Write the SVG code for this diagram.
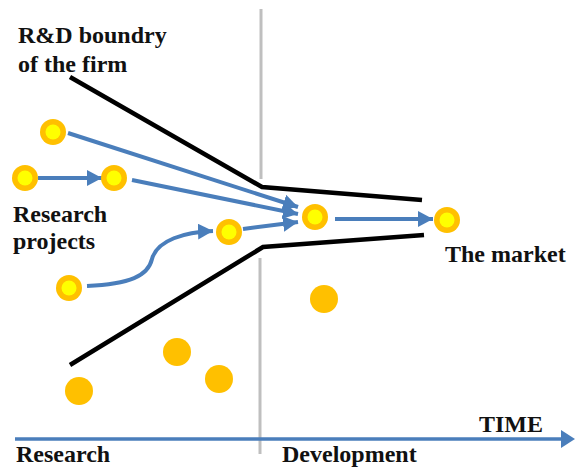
<svg xmlns="http://www.w3.org/2000/svg" width="575" height="469" viewBox="0 0 575 469">
<style>
.lbl{font-family:"Liberation Serif","Times New Roman",serif;font-weight:bold;font-size:24px;fill:#111}
.ring{fill:#FFC000}
.core{fill:#FFFF00}
.dot{fill:#FFC000}
.flow{fill:none;stroke:#4A7EBB;stroke-width:4;marker-end:url(#ah)}
.bound{fill:none;stroke:#000;stroke-width:4.5}
.divider{stroke:#BFBFBF;stroke-width:3}
</style>
<defs>
<marker id="ah" markerUnits="userSpaceOnUse" markerWidth="15" markerHeight="16" refX="15" refY="8" orient="auto">
<path d="M0,0 L15,8 L0,16 Z" fill="#4A7EBB"/>
</marker>
</defs>
<rect width="575" height="469" fill="#fff"/>
<g id="divider">
<line class="divider" x1="261" y1="9" x2="261" y2="179"/>
<line class="divider" x1="260" y1="258" x2="260" y2="454"/>
</g>
<g id="boundary">
<polyline class="bound" points="70,77 262,187 422,200"/>
<polyline class="bound" points="70,365 263,247 424,235"/>
</g>
<g id="connectors">
<line class="flow" x1="68" y1="133" x2="298" y2="207"/>
<line class="flow" x1="132" y1="180" x2="298" y2="214"/>
<line class="flow" x1="243" y1="229" x2="298" y2="222"/>
<line class="flow" x1="38" y1="178" x2="102" y2="178"/>
<path class="flow" d="M87,286 C130,284 148,276 152,259 C157,240 185,232 213,231"/>
<line class="flow" x1="335" y1="219" x2="433" y2="219"/>
</g>
<g id="time-axis">
<line x1="15" y1="439" x2="562" y2="439" stroke="#4A7EBB" stroke-width="3.5"/>
<path d="M561,430 L575,439 L561,448 Z" fill="#4A7EBB"/>
</g>
<g id="n1"><circle class="ring" cx="53" cy="132" r="13"/><circle class="core" cx="53" cy="132" r="7.5"/></g>
<g id="n2"><circle class="ring" cx="25" cy="178" r="13"/><circle class="core" cx="25" cy="178" r="7.5"/></g>
<g id="n3"><circle class="ring" cx="114" cy="178" r="13"/><circle class="core" cx="114" cy="178" r="7.5"/></g>
<g id="n4"><circle class="ring" cx="229" cy="232" r="13"/><circle class="core" cx="229" cy="232" r="7.5"/></g>
<g id="n5"><circle class="ring" cx="69" cy="288" r="13"/><circle class="core" cx="69" cy="288" r="7.5"/></g>
<g id="n6"><circle class="ring" cx="315" cy="217" r="13"/><circle class="core" cx="315" cy="217" r="7.5"/></g>
<g id="n7"><circle class="ring" cx="447" cy="220" r="13"/><circle class="core" cx="447" cy="220" r="7.5"/></g>
<g id="d1"><circle class="dot" cx="324" cy="299" r="14"/></g>
<g id="d2"><circle class="dot" cx="177" cy="352" r="14"/></g>
<g id="d3"><circle class="dot" cx="219" cy="379" r="14"/></g>
<g id="d4"><circle class="dot" cx="79" cy="391" r="14"/></g>
<g id="labels">
<text class="lbl" x="18" y="43">R&amp;D boundry</text>
<text class="lbl" x="18" y="72">of the firm</text>
<text class="lbl" x="13" y="222">Research</text>
<text class="lbl" x="13" y="249">projects</text>
<text class="lbl" x="445" y="262">The market</text>
<text class="lbl" x="479" y="432">TIME</text>
<text class="lbl" x="16" y="462">Research</text>
<text class="lbl" x="282" y="462">Development</text>
</g>
</svg>
